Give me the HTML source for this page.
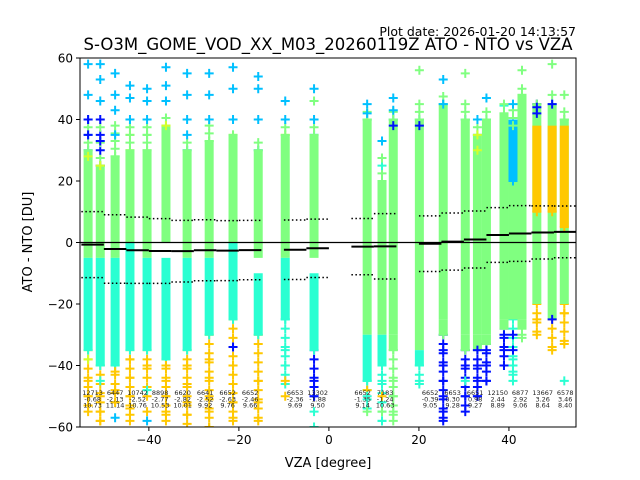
<!DOCTYPE html>
<html><head><meta charset="utf-8"><style>
body{margin:0;background:#fff;}
svg{display:block;font-family:"DejaVu Sans","Liberation Sans",sans-serif;}
</style></head><body>
<svg id="chart" width="640" height="480" viewBox="0 0 640 480">
<text x="576" y="36" text-anchor="end" font-size="12.5" fill="#000">Plot date: 2026-01-20 14:13:57</text>
<text x="328" y="50" text-anchor="middle" font-size="16.5" fill="#000">S-O3M_GOME_VOD_XX_M03_20260119Z ATO - NTO vs VZA</text>
<text x="328" y="467" text-anchor="middle" font-size="13" fill="#000">VZA [degree]</text>
<text x="32" y="242" text-anchor="middle" font-size="13" fill="#000" transform="rotate(-90 32 242)">ATO - NTO [DU]</text>
<g id="plot"></g>
</svg>
<script>
// ---- data ----
const colVza = [-53.5,-50.8,-47.5,-44.2,-40.4,-36.2,-31.5,-26.6,-21.3,-15.7,-9.7,-3.3,8.5,11.8,14.3,20.1,25.4,30.3,33.0,35.0,38.9,40.9,42.9,46.2,49.6,52.3];
const colGreenHi = [30,25,28,30,30,38,30,33,35,30,35,35,40,20,40,40,45,40,35,40,42,38,48,45,45,40];
const colGreenLo = [-5,-5,-5,-5,-5,0,-5,-5,-5,-5,-5,-5,-30,-30,-30,-35,-25,-30,-30,-30,-25,-25,-25,-20,-25,-20];
const colBandHi = [-5,-5,-5,0,-5,-5,-5,-5,0,-10,-5,-10,-30,-30,-30,-35,-25,-30,-30,-30,-25,40,-25,38,38,38];
const colBandLo = [-35,-40,-40,-35,-35,-38,-35,-30,-25,-30,-25,-35,-45,-40,-35,-40,-30,-35,-35,-33,-28,20,-28,10,10,5];
const colBandColor = [2,2,2,2,2,2,2,2,2,2,2,2,2,2,3,2,3,3,3,3,3,1,3,5,5,5];
const colTopHi = [40,38,40,38,38,42,36,38,36,34,38,40,44,28,44,44,48,44,40,44,46,44,50,46,46,44];
const colTopColor = [1,0,1,4,3,4,1,4,4,1,4,1,1,2,1,1,1,1,1,1,2,2,3,0,1,3];
const colTailLo = [-55,-58,-52,-58,-50,-58,-58,-60,-58,-58,-48,-50,-55,-58,-58,-48,-58,-55,-50,-45,-40,-45,-32,-30,-35,-33];
const colTailColor = [5,5,5,5,5,5,5,5,5,5,2,0,2,2,3,2,0,0,0,0,0,2,3,5,5,5];
const colOutliers = [
 [[58,1],[48,1],[40,0],[35,0],[28,4],[-38,4],[-45,5],[-50,5],[-55,5]],
 [[58,1],[53,1],[46,1],[40,0],[33,0],[25,4],[-45,2],[-50,5],[-55,5],[-58,5]],
 [[55,1],[48,1],[43,1],[35,1],[-42,5],[-48,5],[-52,5],[-57,1]],
 [[51,1],[47,1],[40,1],[35,3],[-38,5],[-44,5],[-50,5],[-54,5],[-58,5]],
 [[50,1],[46,1],[40,1],[35,3],[-40,5],[-48,2],[-55,5],[-58,1]],
 [[57,1],[51,1],[46,1],[38,4],[-40,5],[-45,5],[-50,5],[-55,5],[-58,5]],
 [[55,1],[48,1],[40,1],[-40,5],[-46,5],[-52,5],[-56,5],[-59,5]],
 [[55,1],[48,1],[40,1],[-38,5],[-44,5],[-50,5],[-55,5],[-60,5]],
 [[57,1],[50,1],[40,1],[-34,0],[-40,5],[-46,5],[-52,5],[-57,5]],
 [[54,1],[50,1],[40,1],[-45,5],[-52,5],[-58,5]],
 [[46,1],[40,1],[-35,2],[-40,2],[-45,5],[-50,5]],
 [[50,1],[46,3],[-45,0],[-50,0],[-55,2],[-60,2]],
 [[45,1],[42,1],[-48,5],[-50,2],[-55,3]],
 [[33,1],[-45,2],[-50,5],[-55,3],[-58,2]],
 [[47,1],[43,1],[38,0],[-45,3],[-50,3],[-55,3],[-58,3]],
 [[56,3],[45,3],[38,0],[-45,2]],
 [[53,1],[45,1],[-35,0],[-40,0],[-45,0],[-50,0],[-55,0],[-58,0]],
 [[55,3],[45,3],[-40,0],[-45,2],[-50,0],[-55,0]],
 [[35,4],[30,4],[-35,0],[-40,0],[-45,0],[-50,0]],
 [[47,1],[-35,0],[-40,0],[-45,0]],
 [[45,3],[-30,0],[-35,0],[-40,0]],
 [[45,1],[-30,0],[-35,0],[-38,2],[-42,2],[-45,2]],
 [[56,3],[50,3],[-30,3]],
 [[44,0],[42,0],[-25,5],[-30,5]],
 [[58,3],[48,3],[45,0],[-25,0],[-35,5]],
 [[48,3],[-23,5],[-33,5],[-45,2]]
];
const binCenters = [-52.5,-47.5,-42.5,-37.5,-32.5,-27.5,-22.5,-17.5,-7.5,-2.5,7.5,12.5,22.5,27.5,32.5,37.5,42.5,47.5,52.5];
const binCounts = [12713,6447,10742,8898,6620,6641,6652,6652,6653,13302,6652,7183,6652,6653,6651,12150,6877,13667,6578];
const binMeans = [-0.68,-2.13,-2.52,-2.77,-2.82,-2.52,-2.63,-2.46,-2.36,-1.88,-1.35,-1.24,-0.39,0.30,0.98,2.44,2.92,3.26,3.46];
const binStds = [10.73,11.14,10.76,10.53,10.01,9.92,9.76,9.66,9.69,9.50,9.14,10.63,9.05,9.28,9.27,8.89,9.06,8.64,8.40];
const xTicks = [-40,-20,0,20,40];
const yTicks = [60,40,20,0,-20,-40,-60];
// ---- axes ----
const X0=80,X1=576,Y0=58,Y1=427,XMIN=-55.3,XMAX=54.9,YMIN=-60,YMAX=60;
const palette=['#0010ff','#00c0ff','#2affd2','#80ff80','#d4ff2a','#ffc800'];
function sx(v){return X0+(v-XMIN)/(XMAX-XMIN)*(X1-X0);}
function sy(v){return Y1-(v-YMIN)/(YMAX-YMIN)*(Y1-Y0);}
const NS='http://www.w3.org/2000/svg';
const svg=document.getElementById('chart');
const plot=document.getElementById('plot');
function mk(tag,attrs,parent){const e=document.createElementNS(NS,tag);for(const k in attrs)e.setAttribute(k,attrs[k]);(parent||plot).appendChild(e);return e;}
const clip=mk('clipPath',{id:'pc'},svg);
mk('rect',{x:X0,y:Y0,width:X1-X0,height:Y1-Y0},clip);
const g=mk('g',{'clip-path':'url(#pc)'});


function plus(x,y,c){
  const p=mk('path',{d:`M${x-4.5},${y}h9M${x},${y-4.5}v9`,stroke:c,'stroke-width':2,fill:'none'},g);
  
  
}
colVza.forEach((v,i)=>{
  const x=sx(v);
  // upper mixed tail
  for(let u=colGreenHi[i];u<=colTopHi[i];u+=2.5){plus(x,sy(u),palette[(Math.round(u)%5===0)?colTopColor[i]:3]);}
  // lower tail
  const lowStart=Math.min(colGreenLo[i],colBandLo[i]);
  for(let u=lowStart;u>=colTailLo[i];u-=3){plus(x,sy(u),palette[colTailColor[i]]);}
  const r=mk('rect',{x:x-4.5,y:sy(colGreenHi[i]),width:9,height:sy(colGreenLo[i])-sy(colGreenHi[i]),fill:palette[3]},g);
  
  
  const b=mk('rect',{x:x-4.5,y:sy(colBandHi[i]),width:9,height:sy(colBandLo[i])-sy(colBandHi[i]),fill:palette[colBandColor[i]]},g);
  
  
  plus(x,sy(colGreenHi[i]),palette[3]);
  plus(x,sy(colBandLo[i]),palette[colBandColor[i]]);
  colOutliers[i].forEach(o=>plus(x,sy(o[0]),palette[o[1]]));
});
// zero line
const z=mk('line',{x1:X0,x2:X1,y1:sy(0),y2:sy(0),stroke:'#000','stroke-width':1.2});


// means, stds, text
binCenters.forEach((c,i)=>{
  const xa=sx(c-2.5),xb=sx(c+2.5);
  const m=mk('line',{x1:xa,x2:xb,y1:sy(binMeans[i]),y2:sy(binMeans[i]),stroke:'#000','stroke-width':2});
  
  
  [1,-1].forEach(s=>{
    const d=mk('line',{x1:xa,x2:xb,y1:sy(binMeans[i]+s*binStds[i]),y2:sy(binMeans[i]+s*binStds[i]),stroke:'#000','stroke-width':1.5,'stroke-dasharray':'1.5,2.5'});
    
    
  });
  [binCounts[i],binMeans[i].toFixed(2),binStds[i].toFixed(2)].forEach((t,k)=>{
    const tx=mk('text',{x:sx(c),y:395+k*6.3,'font-size':6.5,'text-anchor':'middle',fill:'#222'});
    tx.textContent=t;
    
    
  });
});
// frame
const f=mk('rect',{x:X0,y:Y0,width:X1-X0,height:Y1-Y0,fill:'none',stroke:'#000','stroke-width':1});


xTicks.forEach(t=>{
  const l=mk('line',{x1:sx(t),x2:sx(t),y1:Y1,y2:Y1+4,stroke:'#000'});
  
  
  const tx=mk('text',{x:sx(t),y:Y1+17,'font-size':12,'text-anchor':'middle'});
  tx.textContent=t<0?'\u2212'+(-t):t;
  
  
});
yTicks.forEach(t=>{
  const l=mk('line',{x1:X0-4,x2:X0,y1:sy(t),y2:sy(t),stroke:'#000'});
  
  
  const tx=mk('text',{x:X0-7,y:sy(t)+4.5,'font-size':12,'text-anchor':'end'});
  tx.textContent=t<0?'\u2212'+(-t):t;
  
  
});
</script>
</body></html>
